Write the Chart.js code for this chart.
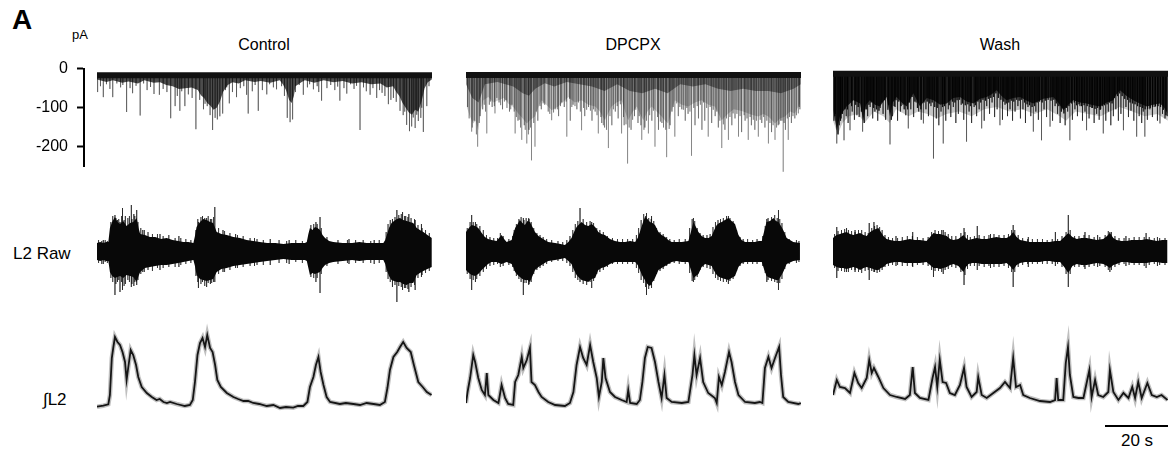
<!DOCTYPE html>
<html>
<head>
<meta charset="utf-8">
<script src="https://cdn.jsdelivr.net/npm/chart.js@4.4.0/dist/chart.umd.min.js"></script>
<style>
body { margin: 0; background: #fff; }
#fig { position: relative; width: 1175px; height: 452px; font-family: "Liberation Sans", Arial, sans-serif; color: #000; }
#fig canvas { position: absolute; }
.t { position: absolute; line-height: 1; white-space: nowrap; transform: translate(-50%, -50%); }
.l { position: absolute; line-height: 1; white-space: nowrap; transform: translate(0, -50%); }
</style>
</head>
<body>
<div id="fig">
  <div class="l" style="left:12px;top:20px;font-size:28px;font-weight:bold">A</div>
  <div class="t" style="left:80px;top:34px;font-size:13px">pA</div>
  <div class="t" style="left:264px;top:45px;font-size:16px">Control</div>
  <div class="t" style="left:633px;top:45px;font-size:16px">DPCPX</div>
  <div class="t" style="left:1000px;top:45px;font-size:16px">Wash</div>
  <div class="l" style="left:13px;top:253px;font-size:17px">L2 Raw</div>
  <div class="l" style="left:43px;top:399px;font-size:17px">∫L2</div>
  <div class="t" style="left:1137px;top:440px;font-size:17px">20 s</div>
</div>
<script>
// each trace is ~106 s long (20 s bar = 63 px)
const tMax = 106.35;
const pATicks = [0, -100, -200];

// --- row 1: holding current (pA), [t s, pA] ---
const ctrlBase = -17, dpcpxBase = -20, washBase = -17;

const ctrlEnv = [[0,-28],[3,-34],[5,-30],[8,-36],[10,-33],[13,-38],[15,-30],[18,-36],[20,-35],[22,-42],[24,-45],[26,-52],[28,-50],[30,-48],[32,-55],[33,-68],[34,-75],[35,-88],[36,-95],[37,-105],[38,-100],[39,-85],[40,-60],[41.5,-42],[43,-35],[45,-38],[47,-30],[50,-34],[52,-32],[55,-36],[58,-30],[59,-40],[60,-55],[61,-80],[61.8,-88],[62.5,-70],[63,-45],[65,-34],[66,-30],[69,-36],[72,-30],[75,-35],[78,-32],[81,-38],[84,-35],[87,-40],[90,-38],[92,-48],[94,-45],[95,-60],[96,-70],[97,-88],[98,-100],[99,-112],[100,-118],[101,-105],[102,-110],[103,-85],[104,-50],[105,-35],[106.3,-28]];
const ctrlSpikes = [[0.2,-60],[1.1,-45],[2.0,-73],[3.0,-40],[4.1,-52],[5.0,-73],[6.3,-38],[7.5,-48],[8.2,-42],[9.4,-111],[10.5,-50],[11.3,-63],[12.4,-44],[13.7,-120],[14.8,-38],[15.9,-55],[17.0,-47],[18.1,-65],[19.8,-67],[21.0,-52],[22.2,-60],[23.4,-127],[24.8,-96],[25.5,-70],[26.3,-108],[26.9,-58],[27.9,-96],[29.0,-66],[30.2,-75],[31.4,-155],[32.6,-80],[33.8,-104],[34.3,-90],[35.0,-96],[35.9,-119],[36.7,-157],[37.5,-126],[38.2,-130],[39.0,-122],[39.9,-115],[40.8,-55],[41.2,-48],[42.0,-89],[43.0,-60],[44.3,-73],[45.5,-50],[46.6,-45],[47.5,-67],[48.0,-115],[49.3,-58],[50.2,-42],[51.2,-108],[52.5,-55],[53.9,-66],[54.8,-40],[56.0,-48],[57.0,-53],[58.6,-45],[59.5,-70],[60.4,-126],[61.3,-137],[62.1,-130],[63.0,-60],[64.2,-42],[65.5,-67],[66.8,-48],[67.5,-40],[68.7,-53],[69.9,-45],[70.4,-60],[71.3,-82],[73.0,-50],[74.2,-42],[75.5,-55],[76.4,-46],[77.1,-82],[78.4,-50],[79.3,-64],[80.5,-40],[81.6,-52],[82.4,-44],[83.5,-157],[84.6,-48],[85.5,-58],[86.7,-67],[87.6,-50],[88.8,-75],[89.7,-55],[90.5,-62],[91.4,-70],[92.5,-91],[93.3,-80],[94.1,-75],[95.0,-85],[96.2,-108],[97.2,-119],[97.7,-110],[98.3,-144],[99.2,-160],[99.9,-148],[100.4,-125],[101.0,-152],[101.5,-118],[102.0,-134],[102.8,-126],[103.1,-100],[103.6,-162],[104.7,-96],[105.4,-45]];

const dpcpxEnv = [[0.2,-89],[1.2,-110],[2.3,-126],[3.1,-120],[3.9,-141],[4.6,-100],[5.5,-75],[7.1,-68],[8.7,-80],[10.3,-75],[12.0,-70],[13.4,-82],[15.0,-90],[16.6,-104],[18.0,-115],[19.3,-126],[20.5,-118],[21.9,-111],[23.0,-90],[24.0,-75],[25.5,-85],[27.2,-97],[29.3,-89],[31.0,-78],[32.5,-68],[34.5,-80],[36.7,-75],[38.8,-85],[41.0,-89],[42.5,-100],[44.1,-119],[46.2,-89],[47.8,-80],[49.4,-75],[50.5,-100],[51.5,-119],[53.0,-100],[54.2,-89],[55.3,-105],[56.3,-119],[57.6,-100],[58.9,-89],[60.5,-100],[62.1,-111],[63.2,-120],[64.2,-126],[65.2,-100],[66.3,-75],[68.5,-85],[70.6,-89],[72.7,-80],[74.8,-75],[77.0,-85],[79.0,-89],[80.2,-105],[81.2,-119],[83.3,-104],[85.0,-95],[86.5,-97],[88.0,-100],[89.6,-104],[91.2,-108],[92.8,-111],[94.4,-105],[96.0,-111],[97.0,-118],[98.1,-126],[99.7,-115],[101.3,-111],[102.9,-100],[104.4,-104],[106.0,-82]];
const dpcpxCore = [[0,-40],[2,-70],[4,-80],[6,-40],[10,-35],[15,-45],[18,-60],[20,-65],[22,-50],[25,-38],[28,-45],[32,-35],[36,-40],[40,-45],[44,-55],[48,-40],[52,-55],[56,-60],[60,-50],[64,-60],[68,-40],[72,-45],[76,-40],[80,-50],[84,-55],[88,-50],[92,-55],[96,-55],[100,-60],[104,-50],[106.3,-40]];
const dpcpxLong = [[1.8,-144],[3.7,-177],[6.6,-148],[9.2,-104],[15.6,-148],[17.7,-162],[19.3,-170],[20.8,-207],[21.9,-177],[27.2,-119],[32.0,-155],[36.7,-141],[42.0,-148],[45.2,-180],[49.4,-148],[51.3,-214],[55.8,-162],[57.9,-148],[60.0,-177],[63.7,-200],[66.3,-155],[71.6,-197],[76.9,-155],[81.2,-180],[83.3,-162],[86.5,-155],[89.6,-162],[92.8,-155],[96.0,-170],[98.1,-162],[100.7,-232],[102.3,-162],[105.5,-104]];
const dpcpxSpikes = [[0.5,-90],[2.6,-120],[4.5,-110],[5.3,-95],[7.4,-85],[8.3,-90],[10.5,-80],[11.6,-95],[12.7,-75],[13.8,-100],[14.6,-85],[16.5,-120],[18.5,-130],[20.0,-140],[22.8,-120],[23.9,-95],[25.0,-85],[26.1,-100],[28.3,-95],[29.4,-110],[30.4,-80],[31.2,-90],[33.1,-120],[34.0,-85],[35.2,-95],[37.7,-110],[38.9,-90],[40.0,-120],[41.0,-100],[43.1,-125],[44.0,-135],[46.3,-130],[47.4,-100],[48.3,-115],[50.2,-130],[52.4,-140],[53.5,-110],[54.6,-125],[56.8,-135],[59.0,-120],[61.1,-140],[62.2,-125],[64.8,-130],[65.4,-100],[67.4,-110],[68.5,-95],[69.6,-120],[70.5,-105],[72.7,-130],[73.8,-115],[74.9,-140],[75.8,-120],[78.0,-125],[79.1,-110],[80.1,-135],[82.2,-140],[84.4,-130],[85.4,-115],[87.5,-145],[88.6,-120],[90.6,-130],[91.7,-140],[93.9,-125],[94.9,-135],[97.0,-145],[99.1,-130],[99.9,-120],[101.4,-140],[103.3,-125],[104.4,-115],[106.0,-95]];
const dpcpxFuzz = [[1.0,-115],[2.0,-135],[3.3,-150],[4.2,-125],[5.8,-85],[6.2,-100],[7.8,-78],[9.0,-88],[9.8,-70],[11.0,-86],[12.2,-78],[13.0,-92],[14.2,-95],[15.3,-100],[16.0,-112],[16.9,-118],[17.3,-135],[18.8,-140],[19.8,-150],[20.5,-135],[21.5,-125],[22.3,-100],[23.5,-88],[24.5,-82],[26.6,-105],[27.8,-102],[29.0,-95],[30.0,-88],[31.8,-78],[32.9,-72],[33.6,-90],[34.6,-88],[35.7,-80],[36.3,-100],[37.3,-92],[38.3,-96],[39.5,-98],[40.5,-95],[41.6,-108],[42.8,-112],[43.6,-130],[44.6,-140],[45.7,-110],[46.8,-95],[48.0,-88],[49.0,-84],[50.0,-112],[50.8,-128],[51.8,-135],[52.9,-118],[53.9,-96],[55.0,-110],[55.5,-130],[56.5,-140],[57.3,-120],[58.3,-108],[59.5,-98],[60.8,-112],[61.7,-122],[62.7,-135],[63.4,-140],[64.5,-138],[65.8,-90],[66.9,-82],[67.9,-90],[69.0,-96],[70.1,-92],[71.1,-100],[72.3,-92],[73.4,-88],[74.4,-85],[75.4,-80],[76.4,-92],[77.5,-90],[78.5,-96],[79.6,-100],[80.6,-120],[81.7,-128],[82.7,-115],[83.8,-112],[84.8,-104],[86.0,-105],[87.0,-110],[88.3,-108],[89.2,-115],[90.2,-112],[91.2,-118],[92.2,-120],[93.4,-118],[94.5,-112],[95.5,-120],[96.5,-125],[97.5,-130],[98.6,-135],[99.4,-128],[100.3,-120],[101.0,-125],[102.0,-115],[102.7,-112],[103.8,-110],[104.9,-108],[105.8,-90]];

const washEnv = [[0.1,-97],[1.2,-141],[2.2,-111],[3.2,-100],[4.3,-89],[5.4,-82],[6.5,-75],[8.6,-82],[9.6,-120],[10.5,-85],[11.7,-75],[13.3,-85],[14.9,-89],[17.0,-68],[18.1,-111],[19.0,-80],[20.2,-68],[21.8,-80],[23.4,-89],[25.5,-60],[27.6,-89],[29.8,-70],[31.9,-75],[34.0,-85],[36.1,-82],[38.2,-70],[40.3,-68],[42.4,-78],[44.6,-82],[46.7,-72],[48.8,-68],[50.4,-62],[51.9,-53],[53.5,-66],[55.1,-75],[57.2,-70],[59.4,-68],[61.5,-76],[63.6,-82],[66.8,-72],[69.9,-68],[71.5,-80],[73.1,-97],[74.7,-85],[76.3,-75],[78.4,-80],[80.5,-82],[82.6,-86],[84.8,-89],[86.9,-80],[89.0,-75],[90.0,-62],[91.1,-53],[93.2,-66],[95.3,-75],[97.4,-82],[99.6,-89],[101.7,-85],[103.8,-82],[105.0,-90],[106.2,-104]];
const washHalo = [[0,-120],[1.5,-150],[3,-125],[5,-110],[8,-105],[10,-125],[13,-100],[16,-110],[18,-125],[20,-95],[24,-110],[27,-100],[30,-105],[33,-115],[36,-105],[40,-100],[44,-110],[48,-95],[52,-90],[56,-100],[60,-95],[64,-105],[68,-95],[72,-110],[74,-120],[77,-100],[81,-105],[85,-110],[88,-100],[91,-90],[95,-100],[99,-110],[103,-105],[106.3,-120]];
const washLong = [[1.2,-170],[3.5,-163],[5.4,-141],[9.4,-144],[18.1,-172],[23.9,-137],[28.7,-126],[31.9,-203],[35.0,-170],[42.4,-166],[47.2,-137],[53.0,-130],[63.6,-144],[66.2,-163],[68.9,-133],[75.2,-163],[80.5,-141],[85.8,-148],[92.2,-141],[96.4,-155],[99.0,-155],[103.8,-126]];
const washSpikes = [[0.3,-120],[0.8,-105],[2.0,-130],[2.6,-115],[4.2,-110],[4.8,-125],[6.1,-100],[6.8,-118],[7.6,-108],[8.3,-112],[10.2,-95],[11.0,-110],[11.8,-90],[12.6,-115],[13.3,-100],[14.2,-120],[15.0,-92],[15.9,-105],[16.7,-118],[17.4,-96],[18.9,-110],[19.7,-90],[20.5,-120],[21.4,-100],[22.2,-85],[23.1,-108],[24.7,-95],[25.6,-112],[26.4,-80],[27.2,-100],[28.0,-118],[29.5,-95],[30.3,-110],[31.1,-88],[32.8,-115],[33.6,-130],[34.3,-100],[35.8,-120],[36.6,-95],[37.4,-112],[38.2,-90],[39.0,-125],[39.8,-105],[40.7,-85],[41.5,-118],[43.2,-100],[44.0,-125],[44.8,-90],[45.6,-110],[46.4,-95],[48.0,-120],[48.8,-88],[49.7,-105],[50.5,-80],[51.3,-112],[52.1,-95],[53.8,-118],[54.6,-85],[55.4,-110],[56.2,-95],[57.0,-120],[57.8,-100],[58.7,-88],[59.5,-115],[60.3,-95],[61.1,-125],[61.9,-90],[62.8,-110],[64.4,-100],[65.2,-118],[67.0,-95],[67.8,-112],[69.7,-120],[70.5,-88],[71.3,-105],[72.1,-125],[72.9,-92],[73.7,-130],[74.5,-100],[76.0,-118],[76.8,-95],[77.6,-110],[78.4,-88],[79.2,-120],[80.0,-100],[81.3,-115],[82.1,-92],[82.9,-125],[83.7,-105],[84.5,-118],[85.0,-95],[86.6,-120],[87.4,-100],[88.2,-130],[89.0,-110],[89.8,-95],[90.6,-120],[91.4,-105],[93.0,-90],[93.8,-112],[94.6,-98],[95.5,-120],[97.2,-110],[98.0,-125],[98.5,-100],[99.8,-118],[100.6,-95],[101.4,-112],[102.2,-90],[103.0,-120],[104.6,-105],[105.4,-115],[106.1,-110]];
const washFuzz = [[0.6,-110],[1.6,-150],[2.4,-120],[3.0,-105],[3.8,-95],[4.6,-95],[5.9,-88],[7.2,-85],[8.0,-90],[9.0,-100],[9.9,-125],[10.7,-95],[11.4,-85],[12.1,-80],[12.9,-92],[13.8,-95],[14.6,-98],[15.5,-80],[16.3,-75],[17.7,-85],[18.5,-118],[19.4,-88],[20.0,-75],[20.9,-78],[21.6,-88],[22.6,-95],[23.7,-95],[24.3,-80],[25.1,-68],[26.0,-78],[26.8,-92],[27.9,-95],[28.9,-80],[29.9,-78],[30.7,-82],[31.5,-80],[32.3,-90],[33.1,-92],[34.8,-90],[35.4,-88],[36.9,-86],[37.9,-78],[38.7,-80],[39.4,-75],[40.2,-74],[41.1,-82],[42.0,-86],[42.8,-84],[43.6,-88],[45.2,-86],[46.0,-78],[46.9,-80],[47.6,-74],[48.4,-76],[49.3,-72],[50.1,-70],[51.0,-68],[51.7,-60],[52.5,-70],[53.3,-74],[54.2,-78],[55.0,-82],[55.8,-80],[56.6,-76],[57.4,-78],[58.3,-74],[59.1,-76],[59.9,-74],[60.8,-80],[61.6,-84],[62.4,-86],[63.2,-90],[64.0,-88],[64.8,-80],[65.6,-78],[66.4,-80],[67.4,-76],[68.3,-74],[69.2,-76],[70.1,-74],[70.9,-82],[71.7,-88],[72.5,-100],[73.3,-104],[74.1,-92],[74.9,-88],[75.7,-82],[76.6,-80],[77.3,-86],[78.1,-84],[78.9,-88],[79.7,-86],[80.7,-88],[81.6,-90],[82.4,-92],[83.2,-94],[84.0,-92],[84.8,-96],[85.5,-88],[86.2,-86],[87.0,-84],[87.8,-80],[88.6,-82],[89.4,-70],[90.3,-66],[91.0,-60],[91.8,-66],[92.6,-72],[93.5,-74],[94.3,-80],[95.1,-82],[95.9,-84],[96.7,-88],[97.5,-90],[98.3,-92],[99.1,-95],[99.9,-94],[100.7,-92],[101.5,-90],[102.4,-88],[103.2,-88],[104.0,-90],[104.9,-96],[105.7,-108]];

// --- row 2: L2 raw, envelope [t, upper, lower] and spikes [t, high, low] (a.u.) ---
const ctrlRaw = [[0,9,-8],[1,10,-9],[2,9,-8],[3,10,-9],[3.6,10,-9],[4.1,24,-20],[4.8,30,-24],[5.7,35,-26],[6.5,30,-25],[7.3,28,-24],[8.3,31,-26],[9.4,26,-23],[10.5,29,-24],[11.5,30,-25],[12.6,34,-30],[13.2,24,-24],[13.7,18,-20],[15.2,17,-16],[16.8,15,-15],[18.5,15,-14],[20.3,13,-13],[22.1,14,-13],[24.0,12,-12],[25.8,11,-11],[27.4,10,-10],[29.0,10,-9],[30.6,9,-8],[31.1,16,-14],[31.6,25,-23],[32.7,30,-27],[33.7,33,-28],[34.8,32,-29],[35.9,30,-28],[36.9,29,-27],[38.0,20,-20],[39.5,18,-17],[41.2,17,-16],[43.3,15,-14],[45.4,14,-13],[47.5,12,-12],[49.6,11,-11],[51.7,10,-10],[54.0,9,-9],[56.6,9,-8],[59.2,8,-7],[61.8,9,-8],[64.4,9,-8],[66.0,9,-8],[66.6,10,-9],[67.1,18,-16],[67.6,24,-23],[68.4,22,-21],[69.2,25,-22],[70.0,24,-21],[70.8,22,-20],[71.6,17,-16],[72.4,14,-13],[73.7,11,-11],[75.0,10,-10],[78.0,9,-9],[81.0,9,-8],[83.3,10,-9],[85.6,9,-8],[88.2,9,-8],[90.9,9,-8],[91.5,12,-12],[92.0,17,-18],[92.7,24,-24],[93.5,29,-28],[94.3,31,-29],[95.2,33,-30],[96.2,34,-30],[97.2,32,-32],[98.3,31,-33],[99.3,30,-31],[100.4,29,-31],[101.5,24,-23],[102.5,22,-21],[103.6,20,-19],[104.9,17,-17],[106.3,14,-15]];
const ctrlRawSpikes = [[2.0,12,-12],[5.7,37,-43],[6.5,32,-30],[7.3,30,-40],[8.1,44,-38],[9.0,36,-32],[10.9,47,-35],[11.7,38,-34],[12.6,42,-33],[15.0,22,-20],[20.0,18,-18],[26.0,16,-15],[32.2,30,-36],[33.5,36,-30],[34.8,34,-35],[36.0,33,-32],[37.4,45,-30],[40.0,22,-20],[44.0,18,-16],[50.0,14,-14],[55.0,13,-13],[61.0,12,-12],[69.5,30,-30],[70.8,35,-41],[80.0,13,-12],[88.0,12,-12],[93.8,33,-35],[95.2,42,-50],[97.0,40,-38],[98.0,36,-36],[99.0,38,-40],[101.0,32,-38],[103.0,28,-25]];
const ctrlRawFuzz = [[0.5,12,-11],[1.5,11,-12],[2.6,12,-10],[3.3,11,-11],[4.4,30,-26],[5.0,36,-30],[6.0,34,-32],[6.9,33,-28],[7.8,36,-30],[8.6,32,-34],[9.8,34,-28],[10.3,36,-30],[11.1,33,-32],[12.0,36,-30],[13.0,30,-28],[13.9,24,-22],[14.5,22,-20],[16.2,20,-18],[17.6,18,-19],[19.2,18,-16],[21.0,16,-16],[22.8,17,-15],[24.8,14,-15],[26.6,14,-13],[28.2,13,-12],[29.8,12,-11],[31.4,22,-24],[32.0,33,-30],[33.0,35,-32],[34.2,34,-34],[35.3,36,-31],[36.4,33,-31],[37.0,35,-30],[38.6,24,-22],[40.5,21,-20],[42.2,19,-18],[44.6,17,-16],[46.4,16,-15],[48.6,14,-14],[50.8,13,-13],[52.8,12,-13],[57.8,12,-11],[60.2,11,-11],[63.1,12,-10],[65.2,11,-11],[67.9,27,-25],[68.8,28,-26],[69.9,28,-26],[71.2,24,-22],[73.0,15,-14],[76.5,12,-12],[79.5,12,-11],[82.1,12,-11],[84.5,12,-11],[86.9,11,-11],[89.6,12,-11],[91.8,20,-20],[92.4,28,-27],[93.1,32,-30],[94.6,35,-33],[95.8,37,-34],[96.6,38,-35],[97.6,36,-36],[98.7,35,-37],[99.7,34,-35],[100.8,33,-33],[101.9,27,-26],[103.2,24,-23],[104.3,22,-21],[105.5,19,-19]];

const dpcpxRaw = [[0,20,-18],[0.9,24,-21],[1.8,27,-23],[2.9,26,-24],[3.9,24,-22],[5.0,19,-18],[6.0,15,-15],[7.0,13,-12],[8.1,12,-10],[9.7,11,-10],[10.5,14,-11],[11.3,17,-12],[12.1,13,-11],[12.9,10,-10],[14.5,12,-12],[15.0,18,-15],[15.6,24,-20],[16.4,28,-23],[17.1,32,-25],[17.9,29,-27],[18.7,27,-28],[19.5,31,-28],[20.3,30,-30],[21.1,25,-24],[21.9,20,-18],[23.0,16,-15],[24.0,14,-13],[25.0,12,-11],[26.1,10,-9],[28.3,9,-8],[30.0,8,-7],[31.4,7,-6],[32.5,10,-9],[33.5,14,-12],[34.3,20,-18],[35.1,25,-23],[36.0,28,-26],[36.7,30,-28],[37.8,27,-29],[38.8,26,-30],[39.9,28,-27],[41.0,25,-26],[42.0,20,-18],[43.0,18,-16],[44.1,17,-15],[45.7,13,-12],[47.3,11,-10],[48.9,10,-10],[50.5,10,-10],[52.1,11,-10],[53.7,10,-10],[54.5,14,-13],[55.2,20,-18],[56.0,28,-24],[56.8,35,-28],[57.6,33,-32],[58.4,30,-34],[59.2,29,-30],[60.0,27,-26],[61.1,20,-18],[62.1,17,-16],[63.2,15,-14],[64.2,12,-12],[65.3,10,-10],[66.9,10,-9],[68.5,10,-10],[70.6,11,-10],[71.4,20,-18],[72.2,30,-26],[73.0,25,-24],[73.8,20,-22],[74.8,16,-15],[75.9,14,-12],[77.0,14,-13],[78.0,16,-14],[78.8,22,-19],[79.6,27,-23],[80.4,29,-25],[81.2,30,-26],[82.2,32,-27],[83.3,34,-28],[84.3,31,-26],[85.4,28,-24],[86.5,17,-15],[87.5,12,-11],[88.6,10,-10],[90.2,10,-10],[91.7,10,-10],[93.0,11,-10],[93.9,11,-10],[94.6,20,-17],[95.4,30,-24],[96.5,31,-26],[97.6,34,-27],[98.4,31,-28],[99.2,30,-28],[100.0,26,-24],[100.7,22,-20],[101.8,14,-12],[103.9,10,-9],[106.0,9,-8]];
const dpcpxRawSpikes = [[1.8,37,-38],[3.0,30,-30],[18.2,34,-43],[20.0,33,-32],[36.2,44,-30],[39.9,30,-36],[57.3,39,-43],[58.9,36,-36],[72.2,34,-30],[83.3,36,-32],[95.5,33,-30],[99.2,42,-38]];
const dpcpxRawFuzz = [[0.4,24,-22],[1.3,30,-27],[2.3,30,-28],[3.4,28,-27],[4.4,26,-24],[5.5,22,-20],[6.5,17,-17],[7.6,15,-14],[8.8,14,-13],[10.0,14,-12],[10.9,19,-15],[11.8,16,-14],[13.6,13,-13],[14.8,16,-15],[15.3,22,-19],[16.0,28,-24],[16.8,33,-27],[17.5,35,-30],[18.4,32,-31],[19.1,34,-31],[19.9,34,-33],[20.7,30,-30],[21.5,24,-22],[22.5,19,-18],[23.5,17,-16],[24.5,15,-14],[25.6,13,-12],[27.2,12,-10],[29.2,11,-9],[30.7,10,-9],[32.0,12,-11],[33.0,16,-14],[33.9,22,-20],[34.7,28,-26],[35.5,31,-28],[37.2,33,-32],[38.3,30,-33],[39.4,31,-30],[40.5,29,-29],[41.5,24,-22],[42.5,22,-20],[43.6,20,-18],[44.9,16,-15],[46.5,14,-12],[48.1,13,-12],[49.7,13,-12],[51.3,13,-12],[52.9,13,-12],[54.1,17,-16],[54.8,24,-21],[55.6,32,-28],[56.4,38,-31],[57.0,36,-35],[58.0,34,-37],[58.8,33,-33],[59.6,31,-29],[60.5,24,-22],[61.6,20,-19],[62.6,18,-17],[63.7,15,-14],[64.7,13,-12],[66.1,12,-11],[67.7,13,-12],[69.6,13,-12],[71.0,24,-21],[71.8,33,-29],[72.6,31,-28],[73.4,24,-25],[74.3,19,-18],[75.3,17,-15],[76.5,17,-16],[77.5,18,-17],[78.4,25,-22],[79.2,30,-26],[80.0,32,-28],[80.8,33,-29],[81.7,34,-30],[82.7,36,-30],[83.8,34,-29],[84.8,31,-27],[85.9,22,-19],[87.0,15,-14],[88.0,13,-12],[89.4,13,-12],[91.0,12,-12],[92.4,13,-12],[94.2,16,-14],[95.0,26,-21],[95.9,34,-28],[97.0,35,-29],[98.0,37,-30],[98.8,34,-31],[99.6,33,-31],[100.3,29,-27],[101.2,20,-17],[102.6,13,-12],[104.9,12,-11],[105.7,11,-10]];

const washRaw = [[0,14,-13],[1.1,17,-15],[2.2,18,-16],[3.2,19,-16],[4.3,20,-17],[5.4,18,-16],[6.5,17,-15],[7.5,18,-16],[8.6,19,-18],[9.7,17,-16],[10.7,16,-15],[11.8,20,-16],[12.8,22,-17],[13.6,23,-18],[14.4,24,-18],[15.2,20,-16],[16.0,16,-15],[17.0,13,-12],[18.1,12,-11],[19.7,11,-10],[21.3,11,-10],[22.8,12,-11],[24.4,13,-11],[26.0,12,-11],[27.6,12,-11],[29.7,11,-10],[30.8,15,-13],[31.9,19,-16],[33.0,18,-16],[34.0,18,-17],[35.0,17,-16],[36.1,16,-15],[37.2,13,-13],[38.2,12,-12],[39.8,13,-14],[41.4,17,-20],[42.2,14,-15],[43.0,12,-12],[44.3,13,-11],[45.6,14,-11],[47.2,13,-12],[48.8,13,-12],[50.3,14,-12],[51.9,15,-12],[53.5,14,-12],[55.1,14,-11],[56.2,16,-14],[57.2,20,-18],[58.3,15,-13],[59.4,12,-11],[61.0,11,-10],[62.5,10,-10],[64.1,10,-10],[65.7,10,-10],[67.2,10,-9],[68.8,10,-9],[70.5,11,-10],[72.1,11,-10],[73.4,15,-15],[74.7,19,-21],[76.0,15,-14],[77.4,13,-12],[78.9,14,-13],[80.5,14,-13],[82.1,13,-12],[83.7,12,-11],[85.8,13,-12],[87.0,16,-14],[87.9,19,-16],[89.0,14,-13],[90.0,12,-12],[91.6,11,-10],[93.2,11,-10],[94.8,12,-11],[96.4,12,-11],[98.0,12,-11],[99.6,13,-11],[101.2,12,-10],[102.8,11,-10],[104.5,12,-11],[106.2,12,-11]];
const washRawSpikes = [[1.2,25,-26],[4.3,24,-20],[7.0,22,-20],[11.5,29,-28],[13.0,30,-20],[20.0,16,-14],[25.3,20,-15],[31.9,18,-25],[35.0,22,-22],[41.6,24,-33],[45.8,26,-18],[50.0,18,-16],[57.2,27,-35],[62.0,15,-15],[70.6,20,-14],[74.7,37,-35],[80.0,20,-17],[84.0,17,-15],[87.9,20,-20],[93.0,16,-14],[99.4,19,-16],[103.0,15,-14]];
const washRawFuzz = [[0.5,18,-16],[1.6,21,-19],[2.7,22,-19],[3.7,23,-20],[4.9,22,-20],[5.9,21,-18],[7.0,20,-18],[8.1,22,-20],[9.1,22,-21],[10.2,20,-19],[11.2,19,-18],[12.3,24,-19],[13.2,26,-20],[14.0,27,-21],[14.8,25,-20],[15.6,22,-18],[16.5,17,-15],[17.6,15,-14],[18.9,14,-13],[20.5,14,-13],[22.0,15,-14],[23.6,16,-14],[25.2,16,-14],[26.8,15,-13],[28.6,14,-13],[30.2,15,-14],[31.3,20,-18],[32.4,22,-19],[33.5,21,-19],[34.5,22,-20],[35.6,20,-18],[36.6,18,-17],[37.7,16,-15],[39.0,16,-16],[40.6,19,-20],[41.9,20,-23],[42.7,17,-17],[43.6,15,-14],[44.9,16,-14],[46.4,17,-14],[48.0,16,-15],[49.5,17,-14],[51.1,18,-15],[52.7,17,-15],[54.3,17,-14],[55.7,18,-16],[56.7,22,-20],[57.7,22,-20],[58.8,17,-15],[60.2,14,-13],[61.8,13,-12],[63.3,13,-12],[64.9,13,-12],[66.5,13,-12],[68.0,12,-12],[69.6,13,-12],[71.3,13,-12],[72.7,16,-15],[74.0,20,-22],[75.3,22,-22],[76.7,16,-15],[78.1,16,-15],[79.7,17,-15],[81.3,17,-15],[82.9,15,-14],[84.7,15,-14],[86.4,17,-15],[87.4,21,-18],[88.4,20,-18],[89.5,16,-15],[90.8,14,-13],[92.4,14,-12],[94.0,14,-13],[95.6,15,-13],[97.2,15,-13],[98.8,15,-14],[100.4,15,-13],[102.0,14,-12],[103.7,14,-13],[105.4,14,-13]];

// --- row 3: integrated L2 [t, a.u.] ---
const ctrlInt = [[0,1.3],[2.0,2.3],[3.6,3.7],[4.1,13],[4.7,50],[5.2,61],[5.7,71],[6.5,66],[7.3,63],[8.1,56],[8.9,46],[9.4,28],[9.9,40],[10.7,58],[11.5,53],[12.4,43],[13.1,31],[14.2,21],[15.8,15],[17.4,11],[18.9,8],[19.9,9],[21.1,6],[22.2,5],[23.2,6],[25.3,4],[27.9,2],[29.5,3],[30.4,8],[31.1,26],[31.9,53],[32.7,65],[33.5,70],[34.3,61],[35.0,73],[35.9,60],[36.7,56],[37.5,43],[38.2,28],[39.3,21],[41.2,15],[43.3,11],[44.8,9],[46.5,7],[48.0,7],[49.6,5],[51.5,4],[53.9,2],[56.0,3],[58.1,0],[60.0,1],[62.3,0.3],[63.8,2],[65.5,2],[66.8,6],[67.6,21],[68.7,31],[69.5,43],[70.3,51],[71.0,36],[71.9,23],[72.9,11],[74.0,6],[77.1,4],[79.0,5],[81.4,4],[83.5,3],[85.6,5],[87.8,4],[89.8,3],[91.4,6],[92.2,20],[93.0,38],[94.1,51],[95.3,56],[96.2,61],[97.2,66],[98.3,60],[99.6,56],[100.6,43],[102.0,26],[103.4,21],[104.7,16],[106.2,13]];
const dpcpxInt = [[0,5],[0.5,16],[1.3,30],[2.3,53],[2.9,46],[3.9,30],[5.0,18],[6.0,13],[6.6,35],[7.1,13],[8.7,8],[10.3,5],[11.3,23],[12.4,10],[13.4,4],[15.0,3],[15.6,26],[16.6,33],[17.7,51],[18.2,40],[19.3,48],[20.3,60],[20.8,26],[21.9,23],[23.0,16],[24.0,11],[26.1,6],[28.3,3],[31.4,2],[33.0,5],[34.1,16],[35.1,43],[36.2,61],[37.2,50],[38.3,43],[39.4,63],[40.4,46],[41.5,30],[42.2,11],[43.1,26],[43.6,50],[44.3,30],[45.7,16],[47.3,11],[49.4,8],[51.0,6],[51.5,18],[52.1,5],[54.2,4],[55.2,8],[56.0,26],[56.8,50],[57.7,61],[58.9,60],[60.0,46],[61.1,26],[62.1,10],[63.0,33],[63.7,10],[65.3,6],[68.5,5],[70.6,6],[71.9,33],[72.5,53],[73.2,33],[74.3,50],[75.3,26],[76.9,15],[79.0,10],[79.6,5],[80.3,31],[81.2,23],[82.2,36],[83.5,56],[84.3,46],[85.4,26],[86.5,13],[88.6,6],[91.7,5],[93.3,6],[94.1,5],[94.9,40],[96.0,51],[97.0,40],[98.1,50],[99.4,61],[100.0,33],[100.7,11],[102.3,6],[105.5,4],[106.3,5]];
const washInt = [[0,13],[1.2,28],[2.2,21],[3.8,20],[5.4,15],[6.8,35],[8.0,25],[9.1,20],[10.7,30],[11.5,48],[12.3,35],[13.0,40],[14.4,31],[16.0,20],[18.1,13],[20.2,11],[22.9,9],[24.4,13],[25.3,41],[26.0,15],[27.6,10],[30.3,8],[31.6,30],[32.4,41],[33.1,21],[33.9,48],[34.8,26],[35.9,25],[37.1,15],[38.7,13],[40.3,23],[41.6,40],[42.4,21],[44.0,11],[45.6,16],[46.1,31],[47.2,13],[48.8,10],[50.9,15],[53.0,20],[54.6,26],[56.2,20],[57.2,50],[58.1,21],[59.4,23],[60.4,13],[62.5,10],[65.7,7],[68.9,6],[70.5,8],[71.0,30],[71.5,8],[73.1,8],[73.9,45],[74.6,61],[75.2,33],[76.3,11],[77.9,10],[79.5,10],[81.4,38],[82.1,11],[83.2,28],[84.2,13],[85.8,11],[87.4,16],[87.9,38],[89.0,16],[90.6,8],[92.2,15],[93.8,10],[95.0,21],[95.9,10],[96.9,26],[98.0,10],[99.8,25],[101.2,13],[102.8,11],[104.3,13],[106.2,8]];
const scaleBar = [[86.35,-18],[106.35,-18]];   // 20 s

Chart.defaults.font.family = '"Liberation Sans", Arial, sans-serif';
Chart.defaults.color = '#000';

const xy = a => a.map(p => ({x: p[0], y: p[1]}));
function spikeLines(list, base) {
  const out = [];
  list.forEach(p => out.push({x: p[0], y: base}, {x: p[0], y: p[1]}, {x: p[0], y: null}));
  return out;
}
function rawSpikeLines(list) {
  const out = [];
  list.forEach(p => out.push({x: p[0], y: p[1]}, {x: p[0], y: p[2]}, {x: p[0], y: null}));
  return out;
}

function currentSets(base, envs, spikeSets) {
  const sets = [{data: [{x: 0, y: base}, {x: tMax, y: base}], borderColor: '#111', borderWidth: 6, order: 0}];
  envs.forEach(e => sets.push({data: xy(e[0]), borderColor: 'rgba(0,0,0,0)', borderWidth: 0,
    backgroundColor: e[1], fill: {value: base}, order: e[2]}));
  spikeSets.forEach(s => sets.push({data: spikeLines(s[0], base), borderColor: s[1], borderWidth: 1, order: 5}));
  return sets;
}
function rawSets(env, spikes, fuzz) {
  return [
    {data: env.map(p => ({x: p[0], y: p[1]})), borderColor: 'rgba(0,0,0,0)', borderWidth: 0, backgroundColor: '#080808', fill: '+1', order: 1},
    {data: env.map(p => ({x: p[0], y: p[2]})), borderColor: 'rgba(0,0,0,0)', borderWidth: 0, order: 1},
    {data: rawSpikeLines(fuzz), borderColor: 'rgba(0,0,0,0.4)', borderWidth: 1, order: 2},
    {data: rawSpikeLines(spikes), borderColor: 'rgba(0,0,0,0.45)', borderWidth: 1, order: 3}
  ];
}
function intSets(trace) {
  return [
    {data: xy(trace), borderColor: '#151515', borderWidth: 1.8, order: 0},
    {data: xy(trace), borderColor: 'rgba(0,0,0,0.25)', borderWidth: 4.5, order: 1}
  ];
}

function panel(left, top, w, h, yMin, yMax, datasets, opt) {
  opt = opt || {};
  const cv = document.createElement('canvas');
  cv.width = w; cv.height = h;
  cv.style.left = left + 'px'; cv.style.top = top + 'px';
  document.getElementById('fig').appendChild(cv);
  const yScale = opt.axis ? {
    min: yMin, max: yMax,
    afterBuildTicks: s => { s.ticks = pATicks.map(v => ({value: v})); },
    afterFit: s => { s.width = opt.axisWidth; },
    border: {display: true, color: '#000', width: 2},
    grid: {drawOnChartArea: false, drawTicks: true, tickLength: 7, tickColor: '#000', tickWidth: 2},
    ticks: {color: '#000', font: {size: 16}, padding: 9}
  } : {display: false, min: yMin, max: yMax};
  return new Chart(cv, {
    type: 'line',
    data: {datasets: datasets},
    options: {
      responsive: false, animation: false, devicePixelRatio: 1, events: [],
      layout: {padding: opt.padding || 0},
      elements: {point: {radius: 0}, line: {tension: 0, borderCapStyle: 'butt'}},
      plugins: {legend: {display: false}, tooltip: {enabled: false}},
      scales: {
        x: {type: 'linear', display: false, min: opt.xMin !== undefined ? opt.xMin : 0, max: tMax},
        y: yScale
      }
    }
  });
}

const colX = [97, 466, 833];
const W = 335;

// row 1: current
panel(0, 50, 432, 135, -250, 0,
  currentSets(ctrlBase, [[ctrlEnv, 'rgba(0,0,0,0.7)', 1]], [[ctrlSpikes, 'rgba(0,0,0,0.3)']]),
  {axis: true, axisWidth: 84, xMin: -13 / 3.15, padding: {top: 16, bottom: 5, left: 0, right: 0}});
panel(colX[1], 66, W, 114, -250, 0,
  currentSets(dpcpxBase, [[dpcpxCore, 'rgba(0,0,0,0.42)', 1], [dpcpxEnv, 'rgba(0,0,0,0.2)', 2]],
    [[dpcpxSpikes, 'rgba(0,0,0,0.25)'], [dpcpxFuzz, 'rgba(0,0,0,0.22)'], [dpcpxLong, 'rgba(0,0,0,0.2)']]));
panel(colX[2], 66, W, 114, -250, 0,
  currentSets(washBase, [[washEnv, 'rgba(0,0,0,0.8)', 1], [washHalo, 'rgba(0,0,0,0.22)', 2]],
    [[washFuzz, 'rgba(0,0,0,0.6)'], [washSpikes, 'rgba(0,0,0,0.45)'], [washLong, 'rgba(0,0,0,0.3)']]));

// row 2: L2 raw
panel(colX[0], 202, W, 100, -50, 50, rawSets(ctrlRaw, ctrlRawSpikes, ctrlRawFuzz));
panel(colX[1], 202, W, 100, -50, 50, rawSets(dpcpxRaw, dpcpxRawSpikes, dpcpxRawFuzz));
panel(colX[2], 202, W, 100, -50, 50, rawSets(washRaw, washRawSpikes, washRawFuzz));

// row 3: integrated L2, wash panel also carries the 20 s bar
panel(colX[0], 320, W, 110, -22, 88, intSets(ctrlInt));
panel(colX[1], 320, W, 110, -22, 88, intSets(dpcpxInt));
panel(colX[2], 320, W, 110, -22, 88, intSets(washInt).concat([
  {data: xy(scaleBar), borderColor: '#000', borderWidth: 2, order: 0}
]));
</script>
</body>
</html>
